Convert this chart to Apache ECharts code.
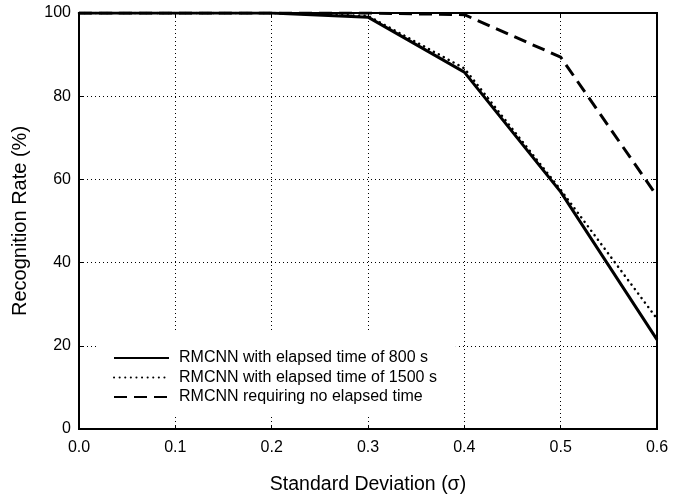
<!DOCTYPE html>
<html>
<head>
<meta charset="utf-8">
<script src="https://cdn.jsdelivr.net/npm/echarts@6/dist/echarts.min.js"></script>
<style>
  html, body { margin: 0; padding: 0; background: #fff; }
  #main { width: 684px; height: 495px; }
</style>
</head>
<body>
<div id="main"></div>
<script>
// data
var sigma = [0.0, 0.1, 0.2, 0.3, 0.4, 0.5, 0.6];
var rate800 = [100, 100, 100, 99.0, 85.8, 57.0, 21.5];
var rate1500 = [100, 100, 100, 99.3, 86.7, 57.5, 26.5];
var rateNoTime = [100, 100, 100, 100, 99.6, 89.4, 56];
var seriesNames = [
    'RMCNN with elapsed time of 800 s',
    'RMCNN with elapsed time of 1500 s',
    'RMCNN requiring no elapsed time'
];

function pairs(ys) {
    return sigma.map(function (x, i) { return [x, ys[i]]; });
}

var chart = echarts.init(document.getElementById('main'));

var font = 'Liberation Sans, Arial, sans-serif';
var gridLine = { show: true, lineStyle: { color: '#000', width: 1, type: [1, 3] } };

// top / right axes only give the box its inward ticks
function frameAxis(pos, isX) {
    return {
        type: 'value',
        position: pos,
        min: 0,
        max: isX ? 0.6 : 100,
        interval: isX ? 0.1 : 20,
        axisLine: { show: true, onZero: false, lineStyle: { color: '#000', width: 2 } },
        axisTick: { show: true, inside: true, length: 4, lineStyle: { color: '#000' } },
        axisLabel: { show: false },
        splitLine: { show: false }
    };
}

var option = {
    animation: false,
    backgroundColor: '#fff',
    grid: {
        left: 79, right: 27, top: 13, bottom: 66,
        outerBoundsMode: 'none',
        containLabel: false,
        show: true, borderColor: '#000', borderWidth: 2
    },
    legend: {
        orient: 'vertical',
        left: 98,
        top: 333,
        padding: [17, 19, 11, 15],
        backgroundColor: '#fff',
        itemWidth: 55,
        itemHeight: 12,
        itemGap: 3.5,
        itemStyle: { opacity: 0 },
        textStyle: { fontFamily: font, fontSize: 16, color: '#000', padding: [0, 0, 0, 5] },
        data: seriesNames
    },
    xAxis: [{
        type: 'value',
        min: 0,
        max: 0.6,
        interval: 0.1,
        name: 'Standard Deviation (\u03c3)',
        nameLocation: 'middle',
        nameGap: 46,
        nameTextStyle: { fontFamily: font, fontSize: 19.5, color: '#000' },
        axisLine: { show: true, lineStyle: { color: '#000', width: 2 } },
        axisTick: { show: true, inside: true, length: 4, lineStyle: { color: '#000' } },
        axisLabel: {
            color: '#000', fontFamily: font, fontSize: 16, margin: 11,
            formatter: function (v) { return v.toFixed(1); }
        },
        splitLine: gridLine
    }, frameAxis('top', true)],
    yAxis: [{
        type: 'value',
        min: 0,
        max: 100,
        interval: 20,
        name: 'Recognition Rate (%)',
        nameLocation: 'middle',
        nameGap: 49,
        nameTextStyle: { fontFamily: font, fontSize: 20, color: '#000' },
        axisLine: { show: true, lineStyle: { color: '#000', width: 2 } },
        axisTick: { show: true, inside: true, length: 4, lineStyle: { color: '#000' } },
        axisLabel: { color: '#000', fontFamily: font, fontSize: 16, margin: 8 },
        splitLine: gridLine
    }, frameAxis('right', false)],
    series: [{
        name: seriesNames[0],
        type: 'line',
        symbol: 'none',
        data: pairs(rate800),
        lineStyle: { color: '#000', width: 3, type: 'solid' },
        itemStyle: { color: '#000' },
        z: 3
    }, {
        name: seriesNames[1],
        type: 'line',
        symbol: 'none',
        data: pairs(rate1500),
        lineStyle: { color: '#000', width: 2.5, type: [0.1, 5.5], cap: 'round' },
        itemStyle: { color: '#000' },
        z: 2
    }, {
        name: seriesNames[2],
        type: 'line',
        symbol: 'none',
        data: pairs(rateNoTime),
        lineStyle: { color: '#000', width: 3, type: [13, 7] },
        itemStyle: { color: '#000' },
        z: 2
    }]
};

chart.setOption(option);
window.addEventListener('resize', function () {
    chart.resize();
});
</script>
</body>
</html>
